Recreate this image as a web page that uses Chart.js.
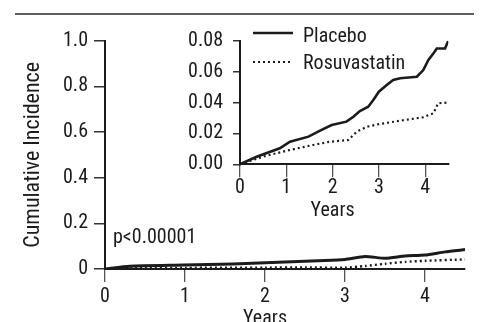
<!DOCTYPE html>
<html><head><meta charset="utf-8">
<script src="https://cdn.jsdelivr.net/npm/chart.js@4/dist/chart.umd.min.js"></script>
<style>
html,body{margin:0;padding:0;background:#fff;}
#wrap{position:relative;width:482px;height:322px;overflow:hidden;background:#fff;}
canvas{position:absolute;left:0;top:0;}
</style></head><body>
<div id="wrap"><canvas id="main" width="482" height="322"></canvas><canvas id="inset" width="482" height="322"></canvas></div>
<script>
// ---- data ----
const seriesNames = ['Placebo', 'Rosuvastatin'];
const yAxisTitle = 'Cumulative Incidence';
const xAxisTitle = 'Years';
const pValueText = 'p<0.00001';

// main panel (0–1 scale)
const mainPlaceboYears = [0, 0.31, 0.98, 1.6, 2.25, 2.75, 3.0, 3.25, 3.5, 3.75, 4.0, 4.25, 4.5];
const mainPlaceboValues = [0, 0.012, 0.017, 0.022, 0.031, 0.037, 0.042, 0.055, 0.047, 0.057, 0.061, 0.075, 0.085];
const mainRosuYears = [0, 0.5, 1.0, 2.0, 2.5, 3.0, 3.25, 3.5, 3.75, 4.0, 4.5];
const mainRosuValues = [0, 0.004, 0.005, 0.006, 0.007, 0.006, 0.013, 0.023, 0.031, 0.036, 0.042];
const mainXTicks = [0, 1, 2, 3, 4];
const mainYTicks = [0, 0.2, 0.4, 0.6, 0.8, 1.0];
const mainYTickLabels = ['0', '0.2', '0.4', '0.6', '0.8', '1.0'];

// inset panel (0–0.08 scale)
const insetPlaceboYears = [0, 0.36, 0.86, 1.08, 1.48, 1.73, 1.98, 2.30, 2.45, 2.59, 2.77, 2.88, 3.0, 3.17, 3.31, 3.46, 3.82, 3.96, 4.07, 4.18, 4.25, 4.43, 4.5];
const insetPlaceboValues = [0, 0.0049, 0.0104, 0.0146, 0.0179, 0.0218, 0.0254, 0.0276, 0.0308, 0.0345, 0.0373, 0.0416, 0.047, 0.0513, 0.0546, 0.0557, 0.0567, 0.061, 0.0675, 0.0718, 0.075, 0.075, 0.080];
const insetRosuYears = [0, 0.5, 1.08, 1.58, 1.94, 2.34, 2.52, 2.74, 3.02, 3.46, 3.95, 4.18, 4.28, 4.5];
const insetRosuValues = [0, 0.005, 0.0093, 0.0125, 0.0146, 0.0157, 0.0211, 0.0243, 0.0261, 0.0282, 0.0304, 0.033, 0.0395, 0.040];
const insetXTicks = [0, 1, 2, 3, 4];
const insetYTicks = [0, 0.02, 0.04, 0.06, 0.08];
const insetYTickLabels = ['0.00', '0.02', '0.04', '0.06', '0.08'];

// ---- styling ----
const FONT = "'Roboto Condensed', 'DejaVu Sans Condensed', sans-serif";
const FS = 20;
const INK = '#1b1b1b';
Chart.defaults.font.family = FONT;
Chart.defaults.font.size = FS;
Chart.defaults.color = INK;

const pts = (xs, ys) => xs.map((x, i) => ({x: x, y: ys[i]}));

function xTitlePlugin(id) {
  return {
    id: id,
    afterDraw(chart, args, opts) {
      const ctx = chart.ctx, xs = chart.scales.x;
      ctx.save();
      ctx.font = FS + 'px ' + FONT;
      ctx.fillStyle = INK;
      ctx.textAlign = 'center';
      ctx.textBaseline = 'alphabetic';
      ctx.fillText(xAxisTitle, xs.getPixelForValue(opts.at), opts.baseline);
      ctx.restore();
    }
  };
}

// main chart
const mainExtra = {
  id: 'mainExtra',
  afterDraw(chart) {
    const ctx = chart.ctx;
    ctx.save();
    ctx.strokeStyle = '#2a2a2a';
    ctx.lineWidth = 1.4;
    ctx.beginPath(); ctx.moveTo(15, 14); ctx.lineTo(474, 14); ctx.stroke();
    ctx.font = FS + 'px ' + FONT;
    ctx.fillStyle = INK;
    ctx.textAlign = 'left';
    ctx.textBaseline = 'alphabetic';
    ctx.fillText(pValueText, chart.chartArea.left + 8, 243);
    ctx.restore();
  }
};

new Chart(document.getElementById('main'), {
  type: 'line',
  data: {
    datasets: [
      {label: seriesNames[0], data: pts(mainPlaceboYears, mainPlaceboValues), borderColor: INK, borderWidth: 3, pointRadius: 0, tension: 0.2, fill: false},
      {label: seriesNames[1], data: pts(mainRosuYears, mainRosuValues), borderColor: INK, borderWidth: 2.4, borderDash: [2, 3], borderCapStyle: 'butt', pointRadius: 0, tension: 0.2, fill: false}
    ]
  },
  options: {
    responsive: false, animation: false, devicePixelRatio: 1,
    events: [],
    layout: {padding: {top: 40.7, right: 17, bottom: 0, left: 0}},
    plugins: {legend: {display: false}, tooltip: {enabled: false}, xTitleMain: {at: 2, baseline: 324}},
    scales: {
      x: {
        type: 'linear', min: 0, max: 4.5,
        afterBuildTicks: s => { s.ticks = mainXTicks.map(v => ({value: v})); },
        afterFit: s => { s.height = 53; },
        border: {color: INK, width: 2},
        grid: {drawOnChartArea: false, drawTicks: true, tickLength: 13, tickColor: '#555', lineWidth: 1.3},
        ticks: {padding: 3, color: INK, font: {size: FS}, maxRotation: 0, callback: v => String(v)}
      },
      y: {
        type: 'linear', min: 0, max: 1,
        afterBuildTicks: s => { s.ticks = mainYTicks.map(v => ({value: v})); },
        afterFit: s => { s.width = 105; },
        border: {color: INK, width: 2},
        grid: {drawOnChartArea: false, drawTicks: true, tickLength: 11, tickColor: '#333', lineWidth: 1.5},
        ticks: {padding: 6, color: INK, font: {size: FS}, callback: (v, i) => mainYTickLabels[i]},
        title: {display: true, text: yAxisTitle, color: INK, font: {size: 22}, padding: {top: 20, bottom: 0}}
      }
    }
  },
  plugins: [mainExtra, xTitlePlugin('xTitleMain')]
});

// inset chart
const insetLegend = {
  id: 'insetLegend',
  afterDraw(chart) {
    const ctx = chart.ctx;
    const rows = [{y: 33, baseline: 42}, {y: 62, baseline: 69}];
    ctx.save();
    chart.data.datasets.forEach((ds, i) => {
      ctx.strokeStyle = ds.borderColor;
      ctx.lineWidth = ds.borderWidth;
      ctx.lineCap = 'butt';
      ctx.setLineDash(ds.borderDash || []);
      ctx.beginPath(); ctx.moveTo(253, rows[i].y); ctx.lineTo(293, rows[i].y); ctx.stroke();
      ctx.setLineDash([]);
      ctx.font = FS + 'px ' + FONT;
      ctx.fillStyle = INK;
      ctx.textAlign = 'left';
      ctx.textBaseline = 'alphabetic';
      ctx.fillText(ds.label, 303, rows[i].baseline);
    });
    ctx.restore();
  }
};

new Chart(document.getElementById('inset'), {
  type: 'line',
  data: {
    datasets: [
      {label: seriesNames[0], data: pts(insetPlaceboYears, insetPlaceboValues), borderColor: INK, borderWidth: 2.6, pointRadius: 0, tension: 0, fill: false},
      {label: seriesNames[1], data: pts(insetRosuYears, insetRosuValues), borderColor: INK, borderWidth: 2.2, borderDash: [2, 3], borderCapStyle: 'butt', pointRadius: 0, tension: 0, fill: false}
    ]
  },
  options: {
    responsive: false, animation: false, devicePixelRatio: 1,
    events: [],
    layout: {padding: {top: 40.7, right: 33.7, bottom: 0, left: 0}},
    plugins: {legend: {display: false}, tooltip: {enabled: false}, xTitleInset: {at: 2, baseline: 216}},
    scales: {
      x: {
        type: 'linear', min: 0, max: 4.5,
        afterBuildTicks: s => { s.ticks = insetXTicks.map(v => ({value: v})); },
        afterFit: s => { s.height = 157.7; },
        border: {color: INK, width: 2},
        grid: {drawOnChartArea: false, drawTicks: true, tickLength: 13, tickColor: '#555', lineWidth: 1.3},
        ticks: {padding: -1, color: INK, font: {size: FS}, maxRotation: 0, callback: v => String(v)}
      },
      y: {
        type: 'linear', min: 0, max: 0.08,
        afterBuildTicks: s => { s.ticks = insetYTicks.map(v => ({value: v})); },
        afterFit: s => { s.width = 240; },
        border: {color: INK, width: 2},
        grid: {drawOnChartArea: false, drawTicks: true, tickLength: 7, tickColor: '#333', lineWidth: 1.5},
        ticks: {padding: 10, color: INK, font: {size: FS}, callback: (v, i) => insetYTickLabels[i]}
      }
    }
  },
  plugins: [insetLegend, xTitlePlugin('xTitleInset')]
});
</script>
</body></html>
